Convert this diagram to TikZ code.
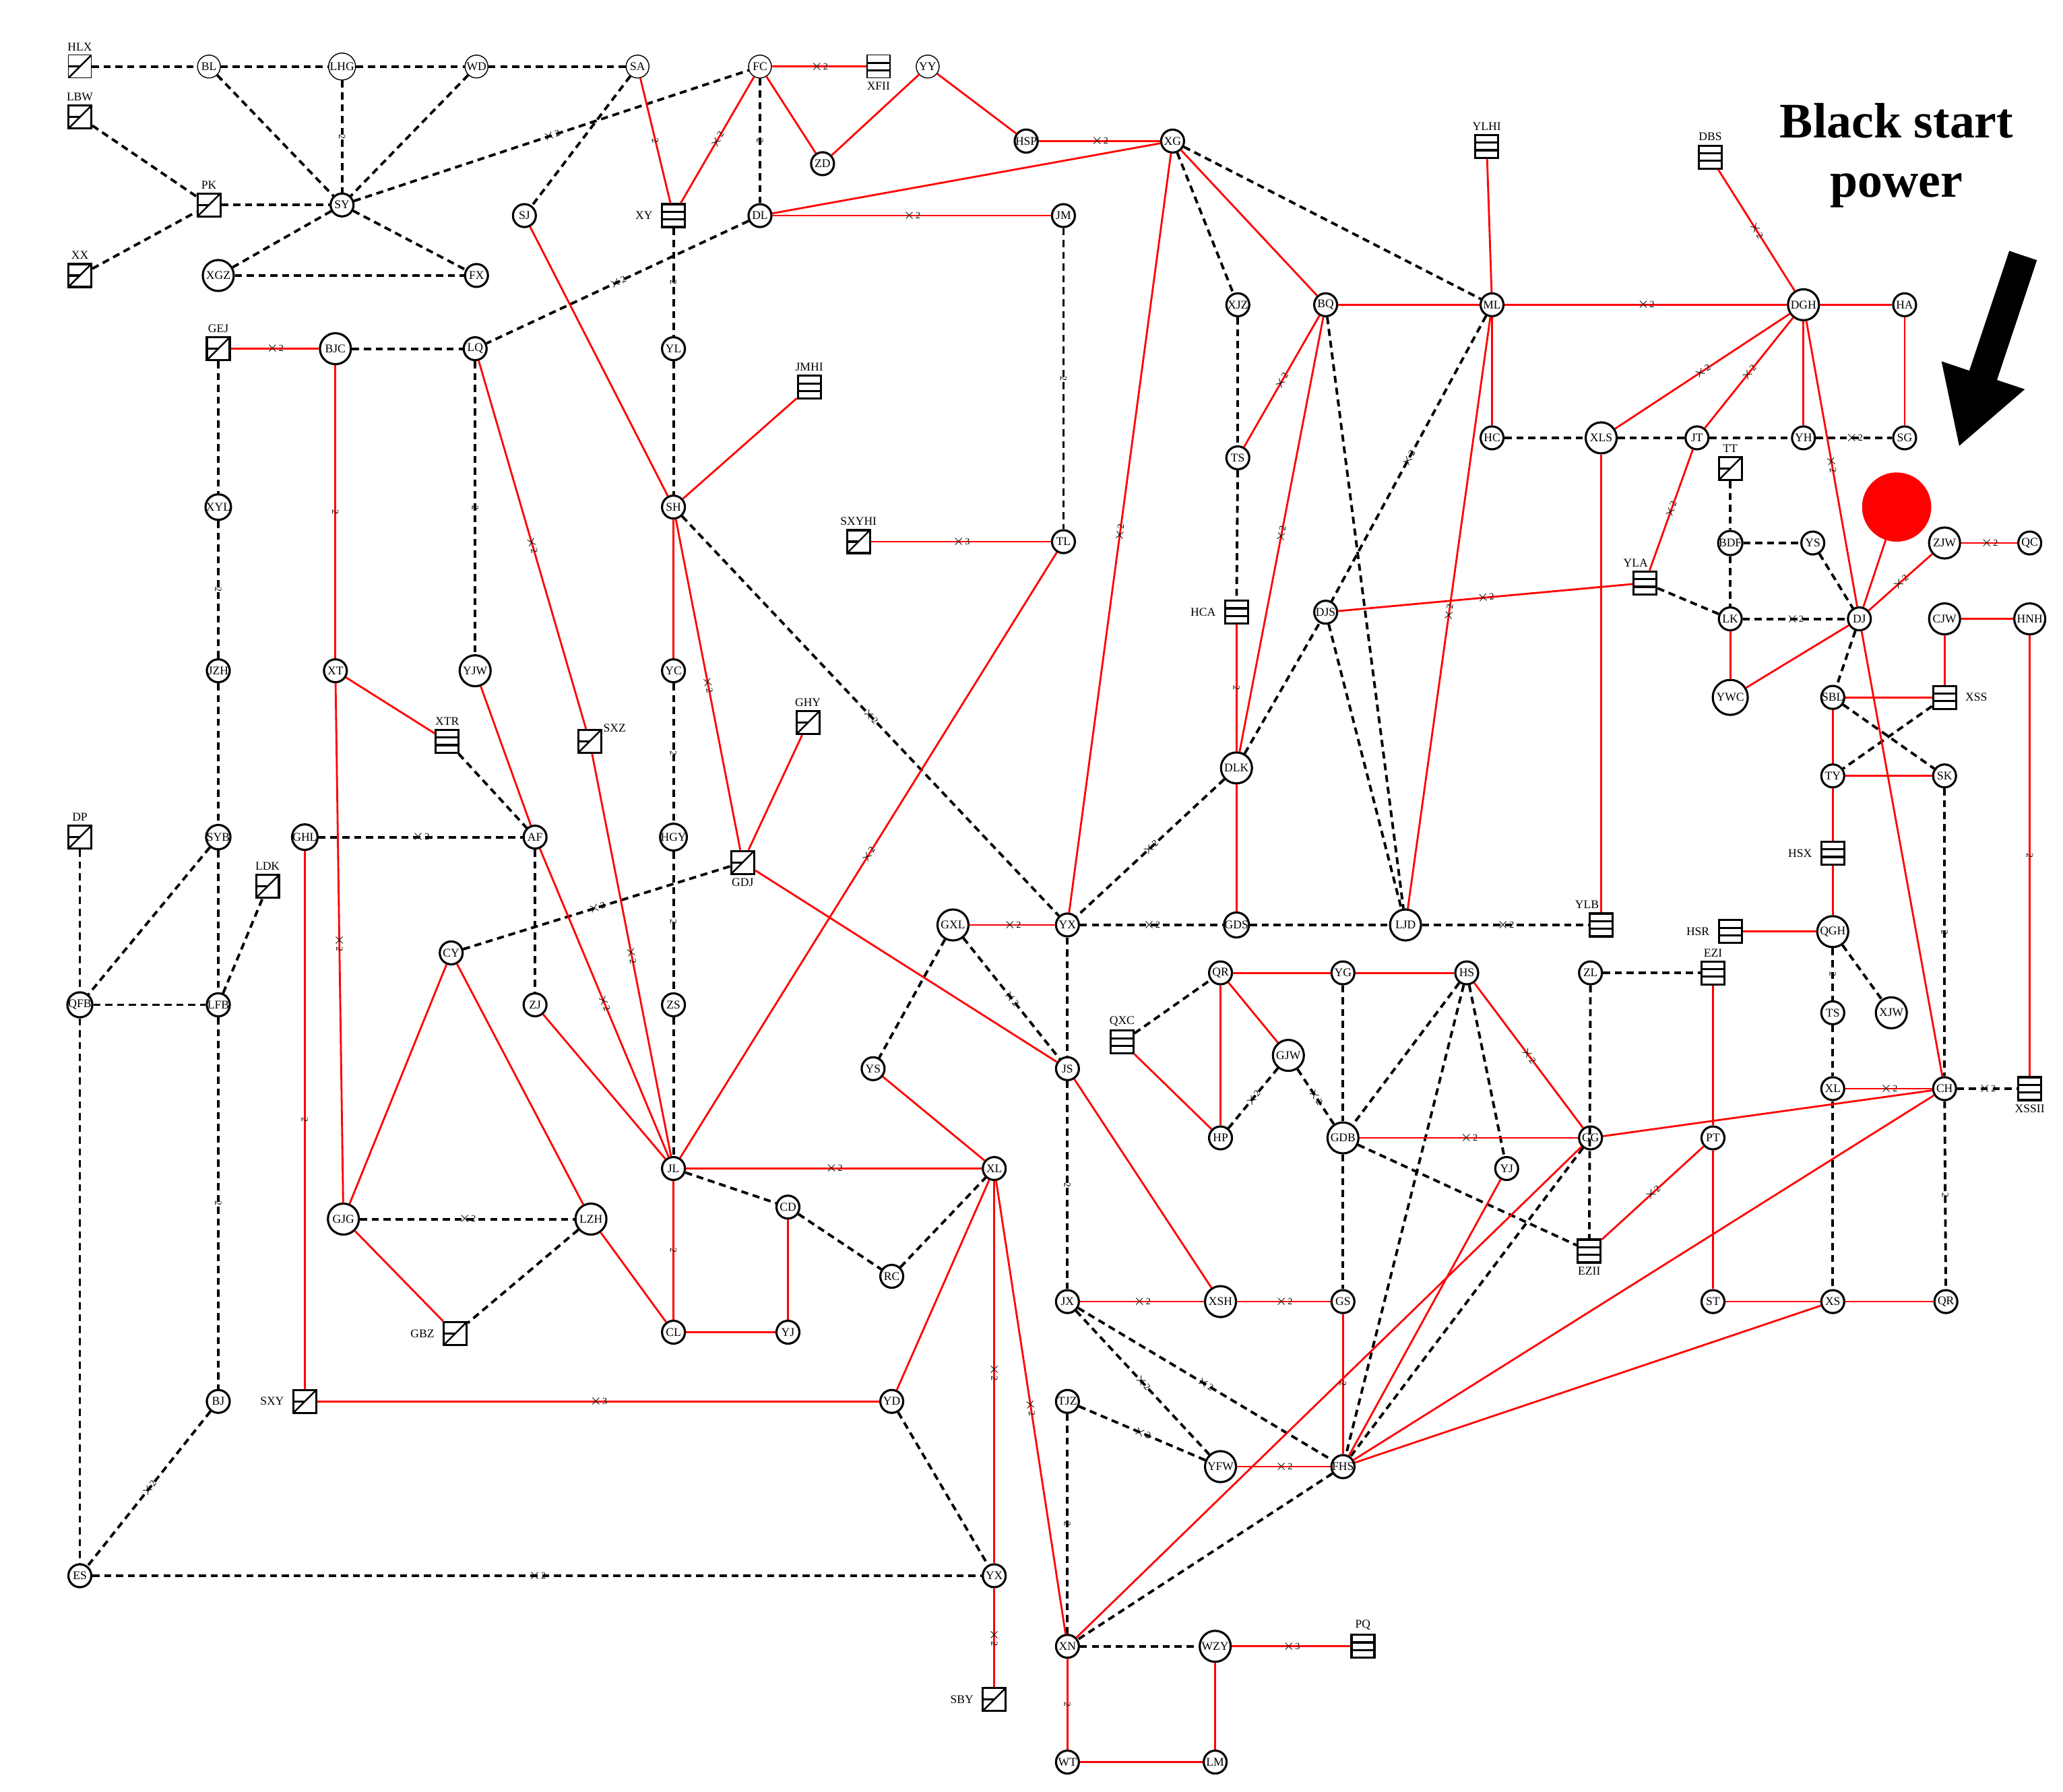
\documentclass[tikz,border=0pt]{standalone}
\usepackage{fontspec}
\setmainfont{Liberation Serif}
\begin{document}
\begin{tikzpicture}[x=0.019755cm,y=-0.019755cm,
 every node/.style={font=\fontsize{5}{5}\selectfont},
 c/.style={circle,draw,line width=0.9pt,inner sep=0pt,minimum size=0.34cm,fill=white},
 C/.style={c,minimum size=0.46cm},
 ct/.style={c,line width=0.4pt},
 g/.style={rectangle,draw,line width=0.9pt,minimum size=0.34cm,inner sep=0pt,fill=white,
   path picture={\draw[line width=0.7pt] (path picture bounding box.south west)--(path picture bounding box.north east);
   \draw[line width=0.9pt] (path picture bounding box.west)--(path picture bounding box.center);}},
 gt/.style={g,line width=0.4pt},
 b/.style={rectangle,draw,line width=0.9pt,minimum size=0.34cm,inner sep=0pt,fill=white,
   path picture={\draw[line width=0.9pt] ([yshift=-0.113cm]path picture bounding box.north west)--([yshift=-0.113cm]path picture bounding box.north east);
   \draw[line width=0.9pt] ([yshift=0.113cm]path picture bounding box.south west)--([yshift=0.113cm]path picture bounding box.south east);}},
 bt/.style={b,line width=0.4pt},
 r/.style={draw=red,line width=0.8pt},
 d/.style={draw=black,line width=1.1pt,dash pattern=on 3pt off 2pt},
 el/.style={font=\fontsize{4}{4}\selectfont,inner sep=0pt,sloped}]
\useasboundingbox (0,0) rectangle (1550,1346);
% nodes
\node[gt,label={[yshift=-2pt]above:HLX}] (HLX) at (60,50) {};
\node[ct] (BL) at (157,50) {BL};
\node[ct,minimum size=0.4cm] (LHG) at (257,50) {LHG};
\node[ct] (WD) at (358,50) {WD};
\node[ct] (SA) at (479,50) {SA};
\node[ct] (FC) at (571,50) {FC};
\node[bt,label={[yshift=2pt]below:XFII}] (XFII) at (660,50) {};
\node[ct] (YY) at (697,50) {YY};
\node[g,label={[yshift=-2pt]above:LBW}] (LBW) at (60,88) {};
\node[g,label={[yshift=-2pt]above:PK}] (PK) at (157,154) {};
\node[c] (SY) at (257,154) {SY};
\node[g,label={[yshift=-2pt]above:XX}] (XX) at (60,207) {};
\node[C] (XGZ) at (164,207) {XGZ};
\node[c] (FX) at (358,207) {FX};
\node[c] (SJ) at (394,162) {SJ};
\node[b,label={left:XY}] (XY) at (506,162) {};
\node[c] (DL) at (571,162) {DL};
\node[c] (JM) at (799,162) {JM};
\node[c] (ZD) at (618,123) {ZD};
\node[c] (HSP) at (771,106) {HSP};
\node[c] (XG) at (881,106) {XG};
\node[b,label={[yshift=-2pt]above:YLHI}] (YLHI) at (1117,110) {};
\node[b,label={[yshift=-2pt]above:DBS}] (DBS) at (1285,118) {};
\node[g,label={[yshift=-2pt]above:GEJ}] (GEJ) at (164,262) {};
\node[C] (BJC) at (252,262) {BJC};
\node[c] (LQ) at (357,262) {LQ};
\node[c] (YL) at (506,262) {YL};
\node[b,label={[yshift=-2pt]above:JMHI}] (JMHI) at (608,291) {};
\node[c] (XJZ) at (930,229) {XJZ};
\node[c] (BQ) at (996,229) {BQ};
\node[c] (ML) at (1121,229) {ML};
\node[C] (DGH) at (1355,229) {DGH};
\node[c] (HA) at (1431,229) {HA};
\node[c] (HC) at (1121,329) {HC};
\node[C] (XLS) at (1203,329) {XLS};
\node[c] (JT) at (1275,329) {JT};
\node[c] (YH) at (1355,329) {YH};
\node[c] (SG) at (1431,329) {SG};
\node[c] (TS) at (930,344) {TS};
\node[g,label={[yshift=-2pt]above:TT}] (TT) at (1300,352) {};
\node[c] (XYL) at (164,381) {XYL};
\node[c] (SH) at (506,381) {SH};
\node[g,label={[yshift=-2pt]above:SXYHI}] (SXYHI) at (645,407) {};
\node[c] (TL) at (799,407) {TL};
\node[c] (BDF) at (1300,408) {BDF};
\node[c] (YS) at (1362,408) {YS};
\node[C] (ZJW) at (1461,408) {ZJW};
\node[c] (QC) at (1525,408) {QC};
\fill[red] (1425,381) circle (26);
\node[b,label={[yshift=-2pt,xshift=-4pt]above:YLA}] (YLA) at (1236,438) {};
\node[b,label={left:HCA}] (HCA) at (929,460) {};
\node[c] (DJS) at (996,460) {DJS};
\node[c] (LK) at (1300,465) {LK};
\node[c] (DJ) at (1397,465) {DJ};
\node[C] (CJW) at (1461,465) {CJW};
\node[C] (HNH) at (1525,465) {HNH};
\node[c] (JZH) at (164,504) {JZH};
\node[c] (XT) at (252,504) {XT};
\node[C] (YJW) at (357,504) {YJW};
\node[c] (YC) at (506,504) {YC};
\node[C,minimum size=0.52cm] (YWC) at (1300,524) {YWC};
\node[c] (SBL) at (1377,524) {SBL};
\node[b,label={right:XSS}] (XSS) at (1461,524) {};
\node[b,label={[yshift=-2pt]above:XTR}] (XTR) at (336,557) {};
\node[g,label={[yshift=-5pt,xshift=-3pt]above right:SXZ}] (SXZ) at (443,557) {};
\node[g,label={[yshift=-2pt]above:GHY}] (GHY) at (607,543) {};
\node[C] (DLK) at (929,577) {DLK};
\node[c] (TY) at (1377,583) {TY};
\node[c] (SK) at (1461,583) {SK};
\node[g,label={[yshift=-2pt]above:DP}] (DP) at (60,629) {};
\node[c] (SYB) at (164,629) {SYB};
\node[c] (GHL) at (229,629) {GHL};
\node[c] (AF) at (402,629) {AF};
\node[c] (HGY) at (506,629) {HGY};
\node[g,label={[yshift=2pt]below:GDJ}] (GDJ) at (558,648) {};
\node[g,label={[yshift=-2pt]above:LDK}] (LDK) at (201,666) {};
\node[b,label={left:HSX}] (HSX) at (1377,641) {};
\node[C] (GXL) at (716,695) {GXL};
\node[c] (YX) at (802,695) {YX};
\node[c] (GDS) at (929,695) {GDS};
\node[C] (LJD) at (1056,695) {LJD};
\node[b,label={[yshift=-2pt,xshift=-6pt]above:YLB}] (YLB) at (1203,695) {};
\node[b,label={left:HSR}] (HSR) at (1300,700) {};
\node[C] (QGH) at (1377,700) {QGH};
\node[c] (CY) at (339,716) {CY};
\node[c] (QFB) at (60,755) {QFB};
\node[c] (LFB) at (164,755) {LFB};
\node[c] (ZJ) at (402,755) {ZJ};
\node[c] (ZS) at (506,755) {ZS};
\node[c] (QR) at (917,731) {QR};
\node[c] (YG) at (1009,731) {YG};
\node[c] (HS) at (1102,731) {HS};
\node[c] (ZL) at (1195,731) {ZL};
\node[b,label={[yshift=-2pt]above:EZI}] (EZI) at (1287,731) {};
\node[b,label={[yshift=-2pt]above:QXC}] (QXC) at (843,783) {};
\node[C] (GJW) at (968,793) {GJW};
\node[c] (YS2) at (656,803) {YS};
\node[c] (JS) at (802,803) {JS};
\node[c] (TS2) at (1377,761) {TS};
\node[C] (XJW) at (1421,761) {XJW};
\node[c] (XL2) at (1377,818) {XL};
\node[c] (CH) at (1461,818) {CH};
\node[b,label={[yshift=2pt]below:XSSII}] (XSSII) at (1525,818) {};
\node[c] (HP) at (917,855) {HP};
\node[C] (GDB) at (1009,855) {GDB};
\node[c] (GG) at (1195,855) {GG};
\node[c] (PT) at (1287,855) {PT};
\node[c] (JL) at (506,878) {JL};
\node[c] (XL) at (747,878) {XL};
\node[c] (YJ2) at (1132,878) {YJ};
\node[c] (CD) at (592,907) {CD};
\node[C] (GJG) at (258,916) {GJG};
\node[C] (LZH) at (444,916) {LZH};
\node[b,label={[yshift=2pt]below:EZII}] (EZII) at (1194,940) {};
\node[c] (RC) at (670,959) {RC};
\node[c] (JX) at (802,978) {JX};
\node[C] (XSH) at (917,978) {XSH};
\node[c] (GS) at (1009,978) {GS};
\node[c] (ST) at (1287,978) {ST};
\node[c] (XS) at (1377,978) {XS};
\node[c] (QR2) at (1462,978) {QR};
\node[g,label={left:GBZ}] (GBZ) at (342,1002) {};
\node[c] (CL) at (506,1001) {CL};
\node[c] (YJ) at (592,1001) {YJ};
\node[g,label={left:SXY}] (SXY) at (229,1053) {};
\node[c] (YD) at (670,1053) {YD};
\node[c] (BJ) at (164,1053) {BJ};
\node[c] (TJZ) at (802,1053) {TJZ};
\node[C] (YFW) at (917,1102) {YFW};
\node[c] (FHS) at (1009,1102) {FHS};
\node[c] (ES) at (60,1184) {ES};
\node[c] (YX2) at (747,1184) {YX};
\node[c] (XN) at (802,1237) {XN};
\node[C] (WZY) at (913,1237) {WZY};
\node[b,label={[yshift=-2pt]above:PQ}] (PQ) at (1024,1237) {};
\node[g,label={left:SBY}] (SBY) at (747,1277) {};
\node[c] (WT) at (802,1324) {WT};
\node[c] (LM) at (913,1324) {LM};
% text and arrow
\node[font=\fontsize{21}{25}\selectfont\bfseries,align=center] (BSP) at (1425,117) {Black start\\power};
\fill[black] (1509.6,188.5)--(1479.6,278.5)--(1458.7,271.5)--(1472,335)--(1521.3,292.5)--(1500.4,285.5)--(1530.4,195.5)--cycle;
% dashed edges
\foreach \a/\b in {HLX/BL,BL/LHG,LHG/WD,WD/SA,BL/SY,WD/SY,SA/SJ,LBW/PK,PK/SY,XX/PK,SY/XGZ,SY/FX,XGZ/FX,BJC/LQ,GEJ/XYL,JZH/SYB,SYB/QFB,SYB/LFB,QFB/LFB,LFB/LDK,QFB/ES,DP/QFB,YD/YX2,JL/CD,CD/RC,RC/XL,YL/SH,ZS/JL,XG/ML,XG/XJZ,XJZ/TS,TS/HCA,HC/XLS,XLS/JT,JT/YH,DLK/DJS,DJS/LJD,BQ/LJD,GDS/LJD,YLA/LK,TT/BDF,BDF/YS,BDF/LK,YS/DJ,DJ/SBL,SBL/SK,XSS/TY,QGH/XJW,TS2/XL2,XL2/XS,ZL/EZI,ZL/EZII,GXL/YS2,AF/ZJ,XTR/AF,LZH/GBZ,QXC/QR,YG/GDB,HS/GDB,HS/FHS,HS/YJ2,GDB/EZII,GDB/GS,GG/FHS,FHS/XN,XN/WZY,YX/JS}
 \draw[d] (\a)--(\b);
\foreach \a/\b/\l in {LHG/SY/2,SY/FC/$\times$2,FC/DL/2,DL/LQ/$\times$2,XYL/JZH/2,LFB/BJ/2,BJ/ES/$\times$2,ES/YX2/$\times$2,YC/HGY/2,HGY/ZS/2,SH/YX/$\times$2,JM/TL/2,ML/DJS/$\times$2,DLK/YX/$\times$2,YX/GDS/$\times$2,LJD/YLB/$\times$2,LK/DJ/$\times$2,SK/CH/2,CH/QR2/2,CH/XSSII/$\times$2,QGH/TS2/2,CY/GDJ/$\times$2,GHL/AF/$\times$2,GJG/LZH/$\times$2,GXL/JS/$\times$2,JS/JX/2,LQ/YJW/2,HP/GJW/$\times$2,GJW/GDB/$\times$2,JX/YFW/$\times$2,JX/FHS/$\times$2,TJZ/YFW/$\times$2,TJZ/XN/2,YH/SG/$\times$2,XY/YL/2}
 \draw[d] (\a)-- node[el]{\l} (\b);
% red edges
\foreach \a/\b in {FC/ZD,ZD/YY,YY/HSP,XG/DL,SJ/SH,SH/JMHI,SH/YC,GDJ/GHY,GDJ/JS,XG/BQ,BQ/ML,ML/YLHI,ML/HC,DLK/GDS,DGH/HA,DGH/YH,HA/SG,XLS/YLB,DJ/YWC,YWC/LK,CJW/HNH,CJW/XSS,SBL/XSS,SBL/TY,TY/HSX,HSX/QGH,HSR/QGH,TY/SK,CH/GG,CH/FHS,XS/FHS,XS/ST,XS/QR2,PT/ST,GG/XN,FHS/YJ2,QR/YG,YG/HS,QR/HP,QR/GJW,QXC/HP,JS/XSH,XN/WT,WT/LM,LM/WZY,YS2/XL,XT/XTR,YJW/AF,ZJ/JL,CY/GJG,CY/LZH,GJG/GBZ,LZH/CL,CL/YJ,YJ/CD,EZI/PT,DJ/CH,XL/YD}
 \draw[r] (\a)--(\b);
\draw[r] (1425,381)--(DJ);
\foreach \a/\b/\l in {SA/XY/2,FC/XY/$\times$2,FC/XFII/$\times$2,HSP/XG/$\times$2,DL/JM/$\times$2,XG/YX/$\times$2,BQ/TS/$\times$2,BQ/DLK/$\times$2,HCA/DLK/2,ML/DGH/$\times$2,DGH/DBS/$\times$2,ML/LJD/$\times$2,DJS/YLA/$\times$2,DGH/XLS/$\times$2,DGH/JT/$\times$2,DGH/DJ/$\times$2,JT/YLA/$\times$2,DJ/ZJW/$\times$2,ZJW/QC/$\times$2,HNH/XSSII/2,XL2/CH/$\times$2,GDB/GG/$\times$2,HS/GG/$\times$2,PT/EZII/$\times$2,SXYHI/TL/$\times$3,TL/JL/$\times$2,SH/GDJ/$\times$2,GEJ/BJC/$\times$2,BJC/XT/2,LQ/SXZ/$\times$2,SXZ/JL/$\times$2,AF/JL/$\times$2,XT/GJG/$\times$2,GHL/SXY/2,SXY/YD/$\times$3,GXL/YX/$\times$2,JL/XL/$\times$2,JL/CL/2,XL/YX2/$\times$2,XL/XN/$\times$2,YX2/SBY/$\times$2,JX/XSH/$\times$2,XSH/GS/$\times$2,YFW/FHS/$\times$2,GS/FHS/2,WZY/PQ/$\times$3,XN/WT/2}
 \draw[r] (\a)-- node[el]{\l} (\b);
\end{tikzpicture}
\end{document}
